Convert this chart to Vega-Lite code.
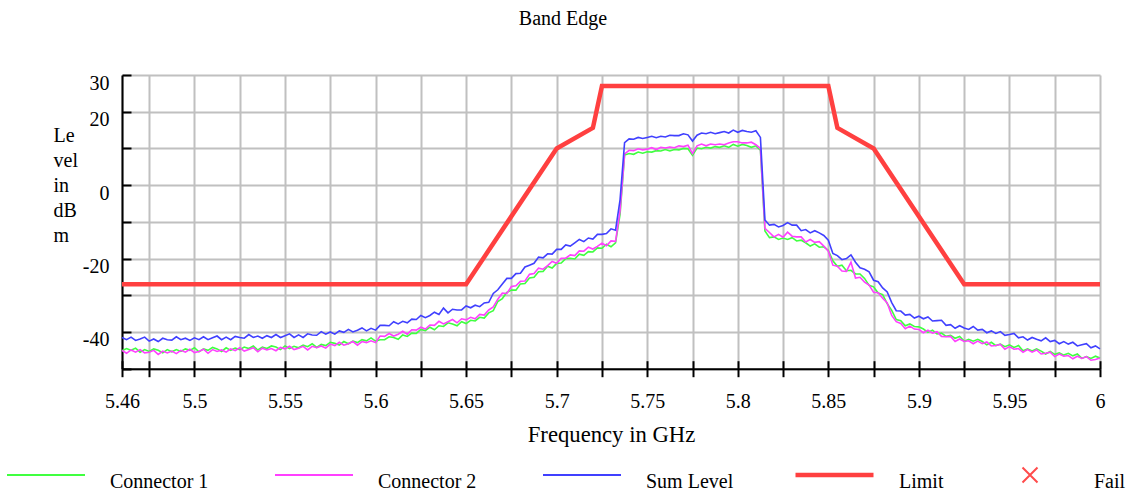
{
"$schema": "https://vega.github.io/schema/vega-lite/v6.json",
"width": 978, "height": 293.7,
"autosize": {"type": "none"},
"padding": {"left": 122, "top": 75, "right": 29, "bottom": 125.3},
"background": "white",
"config": {"view": {"stroke": null}, "font": "Liberation Serif"},
"title": {"text": "Band Edge", "fontSize": 20, "font": "Liberation Serif", "fontWeight": "normal", "color": "black", "anchor": "middle", "frame": "group", "dx": -48, "offset": 28, "baseline": "alphabetic"},
"datasets": {
"trace": [
{"f":5.46,"c1":-45.1,"c2":-45.0,"s":-41.5},{"f":5.4625,"c1":-44.5,"c2":-45.8,"s":-42.1},{"f":5.465,"c1":-45.0,"c2":-44.9,"s":-41.4},{"f":5.4675,"c1":-44.4,"c2":-45.5,"s":-42.3},{"f":5.47,"c1":-45.5,"c2":-44.8,"s":-41.9},{"f":5.4725,"c1":-44.8,"c2":-45.7,"s":-41.4},{"f":5.475,"c1":-45.3,"c2":-45.5,"s":-42.5},{"f":5.4775,"c1":-44.6,"c2":-45.0,"s":-41.9},{"f":5.48,"c1":-45.0,"c2":-46.1,"s":-42.6},{"f":5.4825,"c1":-45.7,"c2":-45.2,"s":-41.7},
{"f":5.485,"c1":-44.8,"c2":-45.7,"s":-42.1},{"f":5.4875,"c1":-45.4,"c2":-45.2,"s":-42.2},{"f":5.49,"c1":-44.8,"c2":-45.9,"s":-41.3},{"f":5.4925,"c1":-45.3,"c2":-45.0,"s":-42.1},{"f":5.495,"c1":-44.6,"c2":-45.5,"s":-41.7},{"f":5.4975,"c1":-45.0,"c2":-44.7,"s":-42.3},{"f":5.5,"c1":-44.3,"c2":-45.6,"s":-41.6},{"f":5.5025,"c1":-45.4,"c2":-45.3,"s":-42.1},{"f":5.505,"c1":-44.6,"c2":-44.7,"s":-41.3},{"f":5.5075,"c1":-45.0,"c2":-45.8,"s":-42.1},
{"f":5.51,"c1":-44.2,"c2":-44.8,"s":-41.6},{"f":5.5125,"c1":-44.6,"c2":-45.3,"s":-41.1},{"f":5.515,"c1":-45.3,"c2":-44.9,"s":-42.1},{"f":5.5175,"c1":-44.3,"c2":-45.5,"s":-41.4},{"f":5.52,"c1":-45.0,"c2":-44.6,"s":-42.1},{"f":5.5225,"c1":-44.4,"c2":-45.1,"s":-41.2},{"f":5.525,"c1":-44.8,"c2":-44.3,"s":-41.5},{"f":5.5275,"c1":-44.1,"c2":-45.2,"s":-41.7},{"f":5.53,"c1":-44.5,"c2":-44.8,"s":-40.7},{"f":5.5325,"c1":-43.8,"c2":-44.3,"s":-41.5},
{"f":5.535,"c1":-44.9,"c2":-45.4,"s":-41.1},{"f":5.5375,"c1":-44.1,"c2":-44.4,"s":-41.7},{"f":5.54,"c1":-44.5,"c2":-44.9,"s":-41.0},{"f":5.5425,"c1":-43.8,"c2":-44.5,"s":-41.5},{"f":5.545,"c1":-44.1,"c2":-45.1,"s":-40.7},{"f":5.5475,"c1":-44.8,"c2":-44.2,"s":-41.5},{"f":5.55,"c1":-43.8,"c2":-44.6,"s":-41.0},{"f":5.5525,"c1":-44.5,"c2":-43.9,"s":-40.5},{"f":5.555,"c1":-43.9,"c2":-44.8,"s":-41.5},{"f":5.5575,"c1":-44.3,"c2":-44.4,"s":-40.8},
{"f":5.56,"c1":-43.6,"c2":-43.9,"s":-41.5},{"f":5.5625,"c1":-44.0,"c2":-44.9,"s":-40.5},{"f":5.565,"c1":-43.2,"c2":-43.9,"s":-40.8},{"f":5.5675,"c1":-44.2,"c2":-44.3,"s":-40.9},{"f":5.57,"c1":-43.4,"c2":-43.8,"s":-39.9},{"f":5.5725,"c1":-43.7,"c2":-44.4,"s":-40.6},{"f":5.575,"c1":-42.8,"c2":-43.3,"s":-40.0},{"f":5.5775,"c1":-43.1,"c2":-43.7,"s":-40.6},{"f":5.58,"c1":-43.6,"c2":-42.8,"s":-39.7},{"f":5.5825,"c1":-42.6,"c2":-43.6,"s":-40.1},
{"f":5.585,"c1":-43.2,"c2":-43.2,"s":-39.3},{"f":5.5875,"c1":-42.5,"c2":-42.6,"s":-40.0},{"f":5.59,"c1":-42.9,"c2":-43.6,"s":-39.5},{"f":5.5925,"c1":-42.1,"c2":-42.6,"s":-38.9},{"f":5.595,"c1":-42.4,"c2":-42.9,"s":-39.7},{"f":5.5975,"c1":-41.6,"c2":-42.4,"s":-39.0},{"f":5.6,"c1":-42.5,"c2":-42.9,"s":-39.5},{"f":5.6025,"c1":-42.1,"c2":-41.1,"s":-38.2},{"f":5.605,"c1":-42.1,"c2":-41.2,"s":-38.2},{"f":5.6075,"c1":-41.3,"c2":-40.4,"s":-38.3},
{"f":5.61,"c1":-41.5,"c2":-41.1,"s":-37.2},{"f":5.6125,"c1":-42.0,"c2":-40.6,"s":-37.8},{"f":5.615,"c1":-40.8,"c2":-39.8,"s":-37.1},{"f":5.6175,"c1":-41.2,"c2":-40.6,"s":-37.5},{"f":5.62,"c1":-40.3,"c2":-39.4,"s":-36.5},{"f":5.6225,"c1":-40.4,"c2":-39.5,"s":-36.6},{"f":5.625,"c1":-39.3,"c2":-38.7,"s":-35.5},{"f":5.6275,"c1":-39.6,"c2":-39.2,"s":-36.1},{"f":5.63,"c1":-38.7,"c2":-38.1,"s":-35.5},{"f":5.6325,"c1":-39.4,"c2":-38.2,"s":-34.6},
{"f":5.635,"c1":-38.3,"c2":-37.1,"s":-35.2},{"f":5.6375,"c1":-38.5,"c2":-37.8,"s":-33.5},{"f":5.64,"c1":-37.5,"c2":-37.2,"s":-34.8},{"f":5.6425,"c1":-37.8,"c2":-36.6,"s":-33.8},{"f":5.645,"c1":-38.3,"c2":-37.5,"s":-34.0},{"f":5.6475,"c1":-37.2,"c2":-36.4,"s":-34.0},{"f":5.65,"c1":-37.7,"c2":-36.7,"s":-32.9},{"f":5.6525,"c1":-36.8,"c2":-36.0,"s":-33.4},{"f":5.655,"c1":-37.0,"c2":-36.4,"s":-32.7},{"f":5.6575,"c1":-36.0,"c2":-35.2,"s":-33.1},
{"f":5.66,"c1":-36.2,"c2":-35.4,"s":-32.1},{"f":5.6625,"c1":-34.8,"c2":-34.0,"s":-31.9},{"f":5.665,"c1":-34.2,"c2":-33.2,"s":-29.5},{"f":5.6675,"c1":-31.7,"c2":-31.1,"s":-28.5},{"f":5.67,"c1":-30.9,"c2":-29.4,"s":-26.9},{"f":5.6725,"c1":-29.2,"c2":-29.5,"s":-25.4},{"f":5.675,"c1":-28.6,"c2":-27.6,"s":-25.4},{"f":5.6775,"c1":-28.6,"c2":-27.4,"s":-24.1},{"f":5.68,"c1":-26.9,"c2":-26.2,"s":-24.0},{"f":5.6825,"c1":-26.8,"c2":-26.1,"s":-22.3},
{"f":5.685,"c1":-25.3,"c2":-24.3,"s":-21.8},{"f":5.6875,"c1":-25.1,"c2":-24.1,"s":-21.3},{"f":5.69,"c1":-23.6,"c2":-22.6,"s":-19.6},{"f":5.6925,"c1":-23.5,"c2":-22.9,"s":-19.8},{"f":5.695,"c1":-22.1,"c2":-21.9,"s":-18.7},{"f":5.6975,"c1":-22.6,"c2":-20.8,"s":-18.8},{"f":5.7,"c1":-21.3,"c2":-21.3,"s":-17.5},{"f":5.7025,"c1":-21.2,"c2":-19.9,"s":-17.5},{"f":5.705,"c1":-20.0,"c2":-19.9,"s":-16.3},{"f":5.7075,"c1":-19.9,"c2":-19.0,"s":-16.6},
{"f":5.71,"c1":-20.1,"c2":-19.2,"s":-15.7},{"f":5.7125,"c1":-18.8,"c2":-17.9,"s":-14.8},{"f":5.715,"c1":-19.1,"c2":-18.0,"s":-15.4},{"f":5.7175,"c1":-18.1,"c2":-16.9,"s":-14.4},{"f":5.72,"c1":-18.2,"c2":-17.4,"s":-14.7},{"f":5.7225,"c1":-17.1,"c2":-16.7,"s":-13.4},{"f":5.725,"c1":-17.2,"c2":-15.8,"s":-13.4},{"f":5.7275,"c1":-16.1,"c2":-16.5,"s":-13.2},{"f":5.73,"c1":-16.8,"c2":-15.2,"s":-11.9},{"f":5.7325,"c1":-15.7,"c2":-15.3,"s":-12.3},
{"f":5.735,"c1":-8.0,"c2":-7.0,"s":-4.0},{"f":5.7375,"c1":8.2,"c2":8.5,"s":11.6},{"f":5.74,"c1":8.6,"c2":9.5,"s":12.6},{"f":5.7425,"c1":8.4,"c2":9.4,"s":12.5},{"f":5.745,"c1":9.0,"c2":9.9,"s":13.0},{"f":5.7475,"c1":8.7,"c2":9.6,"s":12.7},{"f":5.75,"c1":9.1,"c2":9.8,"s":13.0},{"f":5.7525,"c1":9.0,"c2":10.2,"s":13.3},{"f":5.755,"c1":9.4,"c2":9.7,"s":12.9},{"f":5.7575,"c1":9.3,"c2":10.3,"s":13.3},
{"f":5.76,"c1":9.7,"c2":10.1,"s":13.1},{"f":5.7625,"c1":9.3,"c2":10.4,"s":13.6},{"f":5.765,"c1":9.7,"c2":10.2,"s":13.5},{"f":5.7675,"c1":9.6,"c2":10.7,"s":13.5},{"f":5.77,"c1":10.0,"c2":10.5,"s":14.0},{"f":5.7725,"c1":9.9,"c2":10.9,"s":13.7},{"f":5.775,"c1":8.1,"c2":8.6,"s":12.0},{"f":5.7775,"c1":10.1,"c2":10.7,"s":13.6},{"f":5.78,"c1":9.9,"c2":11.2,"s":14.2},{"f":5.7825,"c1":10.3,"c2":10.7,"s":14.0},
{"f":5.785,"c1":10.1,"c2":11.2,"s":14.4},{"f":5.7875,"c1":10.5,"c2":11.0,"s":14.0},{"f":5.79,"c1":10.3,"c2":11.2,"s":14.3},{"f":5.7925,"c1":10.7,"c2":11.0,"s":14.6},{"f":5.795,"c1":10.3,"c2":11.5,"s":14.2},{"f":5.7975,"c1":11.1,"c2":11.8,"s":15.0},{"f":5.8,"c1":10.6,"c2":11.8,"s":14.4},{"f":5.8025,"c1":11.1,"c2":11.5,"s":14.9},{"f":5.805,"c1":10.8,"c2":11.5,"s":14.6},{"f":5.8075,"c1":10.3,"c2":11.7,"s":14.4},
{"f":5.81,"c1":10.7,"c2":11.0,"s":14.8},{"f":5.8125,"c1":9.5,"c2":10.0,"s":13.0},{"f":5.815,"c1":-12.5,"c2":-11.8,"s":-9.5},{"f":5.8175,"c1":-14.3,"c2":-12.9,"s":-10.9},{"f":5.82,"c1":-14.1,"c2":-14.1,"s":-10.7},{"f":5.8225,"c1":-14.8,"c2":-13.4,"s":-11.4},{"f":5.825,"c1":-14.4,"c2":-14.2,"s":-11.0},{"f":5.8275,"c1":-14.8,"c2":-12.8,"s":-10.2},{"f":5.83,"c1":-14.3,"c2":-13.9,"s":-10.9},{"f":5.8325,"c1":-15.2,"c2":-14.1,"s":-10.9},
{"f":5.835,"c1":-15.0,"c2":-14.1,"s":-12.4},{"f":5.8375,"c1":-15.7,"c2":-15.5,"s":-12.1},{"f":5.84,"c1":-16.6,"c2":-14.8,"s":-13.0},{"f":5.8425,"c1":-16.0,"c2":-15.6,"s":-12.4},{"f":5.845,"c1":-16.9,"c2":-15.4,"s":-13.0},{"f":5.8475,"c1":-16.8,"c2":-16.6,"s":-13.7},{"f":5.85,"c1":-17.8,"c2":-18.0,"s":-15.0},{"f":5.8525,"c1":-20.6,"c2":-21.8,"s":-18.6},{"f":5.855,"c1":-22.1,"c2":-22.1,"s":-19.2},{"f":5.8575,"c1":-21.8,"c2":-23.4,"s":-20.3},
{"f":5.86,"c1":-23.3,"c2":-23.5,"s":-20.0},{"f":5.8625,"c1":-23.2,"c2":-21.0,"s":-19.0},{"f":5.865,"c1":-24.2,"c2":-25.3,"s":-21.0},{"f":5.8675,"c1":-24.2,"c2":-25.1,"s":-22.5},{"f":5.87,"c1":-25.4,"c2":-26.4,"s":-22.9},{"f":5.8725,"c1":-27.3,"c2":-27.2,"s":-23.6},{"f":5.875,"c1":-27.7,"c2":-29.2,"s":-25.9},{"f":5.8775,"c1":-29.4,"c2":-29.3,"s":-26.3},{"f":5.88,"c1":-29.8,"c2":-30.8,"s":-28.0},{"f":5.8825,"c1":-32.3,"c2":-32.1,"s":-29.1},
{"f":5.885,"c1":-34.1,"c2":-35.5,"s":-32.0},{"f":5.8875,"c1":-36.6,"c2":-37.2,"s":-34.2},{"f":5.89,"c1":-36.9,"c2":-37.7,"s":-34.3},{"f":5.8925,"c1":-38.3,"c2":-39.1,"s":-35.4},{"f":5.895,"c1":-37.8,"c2":-38.4,"s":-35.2},{"f":5.8975,"c1":-38.5,"c2":-39.2,"s":-36.2},{"f":5.9,"c1":-38.6,"c2":-39.3,"s":-35.7},{"f":5.9025,"c1":-39.2,"c2":-40.2,"s":-36.4},{"f":5.905,"c1":-40.1,"c2":-39.5,"s":-35.9},{"f":5.9075,"c1":-39.5,"c2":-40.3,"s":-37.0},
{"f":5.91,"c1":-40.5,"c2":-39.9,"s":-36.9},{"f":5.9125,"c1":-40.3,"c2":-41.2,"s":-36.8},{"f":5.915,"c1":-41.2,"c2":-41.3,"s":-38.2},{"f":5.9175,"c1":-40.9,"c2":-41.2,"s":-38.0},{"f":5.92,"c1":-41.7,"c2":-42.6,"s":-39.0},{"f":5.9225,"c1":-41.2,"c2":-41.9,"s":-38.3},{"f":5.925,"c1":-42.5,"c2":-42.6,"s":-38.9},{"f":5.9275,"c1":-42.0,"c2":-42.4,"s":-39.3},{"f":5.93,"c1":-42.5,"c2":-43.2,"s":-38.5},{"f":5.9325,"c1":-42.0,"c2":-42.5,"s":-39.5},
{"f":5.935,"c1":-42.6,"c2":-43.2,"s":-39.3},{"f":5.9375,"c1":-43.5,"c2":-42.7,"s":-40.2},{"f":5.94,"c1":-42.8,"c2":-43.8,"s":-39.7},{"f":5.9425,"c1":-43.7,"c2":-43.7,"s":-40.4},{"f":5.945,"c1":-43.3,"c2":-43.4,"s":-39.9},{"f":5.9475,"c1":-44.0,"c2":-44.7,"s":-40.9},{"f":5.95,"c1":-43.5,"c2":-44.0,"s":-40.7},{"f":5.9525,"c1":-44.2,"c2":-44.7,"s":-40.4},{"f":5.955,"c1":-43.7,"c2":-44.5,"s":-41.6},{"f":5.9575,"c1":-45.1,"c2":-45.5,"s":-41.3},
{"f":5.96,"c1":-44.6,"c2":-44.8,"s":-42.2},{"f":5.9625,"c1":-45.2,"c2":-45.5,"s":-41.5},{"f":5.965,"c1":-44.6,"c2":-44.9,"s":-42.0},{"f":5.9675,"c1":-45.2,"c2":-46.0,"s":-42.4},{"f":5.97,"c1":-46.0,"c2":-45.8,"s":-41.6},{"f":5.9725,"c1":-45.3,"c2":-45.5,"s":-42.6},{"f":5.975,"c1":-46.1,"c2":-46.7,"s":-42.3},{"f":5.9775,"c1":-45.7,"c2":-46.0,"s":-43.2},{"f":5.98,"c1":-46.3,"c2":-46.6,"s":-42.6},{"f":5.9825,"c1":-45.8,"c2":-46.4,"s":-43.3},
{"f":5.985,"c1":-46.5,"c2":-47.3,"s":-42.8},{"f":5.9875,"c1":-46.0,"c2":-46.6,"s":-43.8},{"f":5.99,"c1":-47.2,"c2":-47.2,"s":-43.5},{"f":5.9925,"c1":-46.7,"c2":-46.7,"s":-43.2},{"f":5.995,"c1":-47.2,"c2":-47.7,"s":-44.3},{"f":5.9975,"c1":-46.6,"c2":-47.5,"s":-43.8},{"f":6,"c1":-47.1,"c2":-47.1,"s":-44.6}
],
"limit": [
{"f":5.46,"level":-27},{"f":5.65,"level":-27},{"f":5.7,"level":10},{"f":5.72,"level":15.6},{"f":5.725,"level":27},{"f":5.85,"level":27},{"f":5.855,"level":15.6},{"f":5.875,"level":10},{"f":5.925,"level":-27},{"f":6,"level":-27}
]
},
"resolve": {"axis": {"x": "independent"}},
"layer": [
{
"data": {"name": "trace"},
"transform": [{"fold": ["c1", "c2", "s"], "as": ["series", "level"]}],
"mark": {"type": "line", "strokeWidth": 1.6},
"encoding": {
"x": {"field": "f", "type": "quantitative", "scale": {"domain": [5.46, 6], "nice": false, "zero": false},
"axis": {"values": [5.46,5.475,5.5,5.525,5.55,5.575,5.6,5.625,5.65,5.675,5.7,5.725,5.75,5.775,5.8,5.825,5.85,5.875,5.9,5.925,5.95,5.975,6],
"labelExpr": "indexof([5.46,5.5,5.55,5.6,5.65,5.7,5.75,5.8,5.85,5.9,5.95,6], datum.value) >= 0 ? '' + datum.value : ''",
"labelFlush": false, "labelOverlap": false, "labelFontSize": 20, "labelFont": "Liberation Serif", "labelColor": "black", "labelPadding": 15, "labelBaseline": "top",
"tickSize": 8, "tickWidth": 2, "tickColor": "black", "domainColor": "black", "domainWidth": 2,
"grid": true, "gridColor": "#c0c0c0", "gridWidth": 2,
"title": "Frequency in GHz", "titleFont": "Liberation Serif", "titleFontSize": 22.7, "titleFontWeight": "normal", "titleColor": "black", "titleBaseline": "alphabetic", "titleY": 72.8}},
"y": {"field": "level", "type": "quantitative", "scale": {"domain": [-50, 30], "nice": false, "zero": false},
"axis": {"values": [-50,-40,-30,-20,-10,0,10,20,30],
"labelExpr": "indexof([30,20,0,-20,-40], datum.value) >= 0 ? '' + datum.value : ''",
"labelFontSize": 20, "labelFont": "Liberation Serif", "labelColor": "black", "labelBaseline": "top", "labelOffset": -2, "labelAlign": "right", "labelPadding": 22, "labelOverlap": false, "labelFlush": false,
"tickSize": -9, "tickWidth": 2, "tickColor": "black", "domainColor": "black", "domainWidth": 2,
"grid": true, "gridColor": "#c0c0c0", "gridWidth": 2,
"title": ["Le", "vel", "in", "dB", "m"], "titleAngle": 0, "titleAlign": "left", "titleBaseline": "alphabetic", "titleX": -69, "titleY": 66.7,
"titleFont": "Liberation Serif", "titleFontSize": 20, "titleFontWeight": "normal", "titleColor": "black", "titleLineHeight": 25}},
"color": {"field": "series", "type": "nominal",
"scale": {"domain": ["c1", "c2", "s"], "range": ["#40ff40", "#ff40ff", "#4040ff"]},
"legend": {"orient": "none", "legendX": -116, "legendY": 360, "direction": "horizontal", "columns": 3, "title": null, "padding": 0,
"symbolType": "stroke", "symbolSize": 6084, "symbolStrokeWidth": 2,
"labelExpr": "datum.label == 'c1' ? 'Connector 1' : datum.label == 'c2' ? 'Connector 2' : 'Sum Level'",
"labelFontSize": 20, "labelFont": "Liberation Serif", "labelColor": "black", "labelOffset": 24, "columnPadding": 62,
"encode": {"labels": {"update": {"dy": {"value": 7}}}}}}
}
},
{
"data": {"name": "limit"},
"mark": {"type": "line", "color": "#ff4040"},
"encoding": {
"x": {"field": "f", "type": "quantitative", "scale": {"domain": [5.46, 6], "nice": false, "zero": false},
"axis": {"orient": "bottom", "labels": false, "domain": false, "grid": false, "title": null, "tickSize": -8, "tickWidth": 2, "tickColor": "black",
"values": [5.46,5.475,5.5,5.525,5.55,5.575,5.6,5.625,5.65,5.675,5.7,5.725,5.75,5.775,5.8,5.825,5.85,5.875,5.9,5.925,5.95,5.975,6]}},
"y": {"field": "level", "type": "quantitative", "scale": {"domain": [-50, 30], "nice": false, "zero": false},
"axis": {"values": [-50,-40,-30,-20,-10,0,10,20,30],
"labelExpr": "indexof([30,20,0,-20,-40], datum.value) >= 0 ? '' + datum.value : ''",
"labelFontSize": 20, "labelFont": "Liberation Serif", "labelColor": "black", "labelBaseline": "top", "labelOffset": -2, "labelAlign": "right", "labelPadding": 22, "labelOverlap": false, "labelFlush": false,
"tickSize": -9, "tickWidth": 2, "tickColor": "black", "domainColor": "black", "domainWidth": 2,
"grid": true, "gridColor": "#c0c0c0", "gridWidth": 2,
"title": ["Le", "vel", "in", "dB", "m"], "titleAngle": 0, "titleAlign": "left", "titleBaseline": "alphabetic", "titleX": -69, "titleY": 66.7,
"titleFont": "Liberation Serif", "titleFontSize": 20, "titleFontWeight": "normal", "titleColor": "black", "titleLineHeight": 25}},
"strokeWidth": {"datum": "Limit", "type": "ordinal", "scale": {"type": "ordinal", "domain": ["Limit"], "range": [4.5]},
"legend": {"orient": "none", "legendX": 671, "legendY": 358.5, "title": null, "padding": 0,
"symbolType": "stroke", "symbolSize": 6084, "symbolStrokeColor": "#ff4040",
"labelFontSize": 20, "labelFont": "Liberation Serif", "labelColor": "black", "labelOffset": 23,
"encode": {"labels": {"update": {"dy": {"value": 7}}}}}}
}
},
{
"data": {"values": []},
"mark": {"type": "point", "filled": false, "color": "#ff0000", "strokeWidth": 2},
"encoding": {
"shape": {"datum": "Fail", "type": "nominal", "scale": {"domain": ["Fail"], "range": ["M-1,-0.6L1,1.4M1,-0.6L-1,1.4"]},
"legend": {"orient": "none", "legendX": 898, "legendY": 387, "title": null, "padding": 0, "symbolSize": 225, "symbolStrokeColor": "#ff0000", "symbolFillColor": "transparent", "symbolStrokeWidth": 2,
"labelFontSize": 20, "labelFont": "Liberation Serif", "labelColor": "black", "labelOffset": 54, "labelBaseline": "top"}}
}
}
]
}
